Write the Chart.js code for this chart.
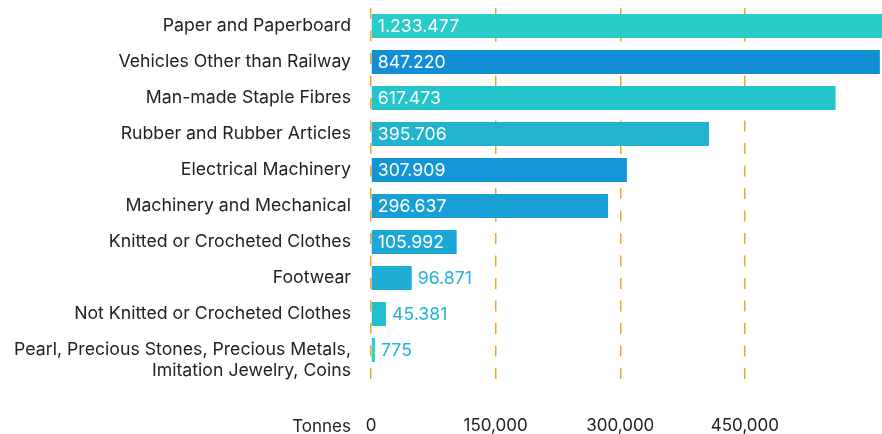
<!DOCTYPE html>
<html lang="en">
<head>
  <meta charset="UTF-8">
  <title>Exports by product (Tonnes)</title>
  <script src="https://cdn.jsdelivr.net/npm/chart.js"></script>
  <style>
    html, body { margin: 0; padding: 0; background: #fff; }
    #wrap { width: 882px; height: 434px; position: relative; }
  </style>
</head>
<body>
  <div id="wrap">
    <canvas id="chart"></canvas>
  </div>

  <script>
    // categories, top to bottom (blank first line keeps "Pearl..." level with its bar)
    const categories = [
      'Paper and Paperboard',
      'Vehicles Other than Railway',
      'Man-made Staple Fibres',
      'Rubber and Rubber Articles',
      'Electrical Machinery',
      'Machinery and Mechanical',
      'Knitted or Crocheted Clothes',
      'Footwear',
      'Not Knitted or Crocheted Clothes',
      ['', 'Pearl, Precious Stones, Precious Metals,', 'Imitation Jewelry, Coins']
    ];
    // bar lengths as drawn against the axis (first bar runs off the right edge)
    const barValues = [615000, 612400, 559100, 406700, 308000, 285200, 103100, 49000, 18000, 4800];
    // numbers printed on the bars
    const labelValues = [1233477, 847220, 617473, 395706, 307909, 296637, 105992, 96871, 45381, 775];
    const barColors = ['#28ccc9', '#128ed5', '#24c4cc', '#22b4ce', '#1496d6', '#189fd6', '#1ca8d4', '#20aed4', '#22c0cd', '#2ad4c8'];
    const xTicks = [0, 150000, 300000, 450000];
    const axisMax = 615000;
    const unitLabel = 'Tonnes';

    const FONT = 'Inter, "Noto Sans", sans-serif';
    const gridColor = '#f5a524';

    function dots(n) {
      return String(n).replace(/\B(?=(\d{3})+(?!\d))/g, '.');
    }

    // numbers on the bars: white inside when they fit, coloured after the bar otherwise
    const barLabelPlugin = {
      id: 'barLabelPlugin',
      afterDatasetsDraw: (chart) => {
        const ctx = chart.ctx;
        const meta = chart.getDatasetMeta(0);
        ctx.save();
        ctx.font = '17.7px ' + FONT;
        ctx.textBaseline = 'middle';
        ctx.textAlign = 'left';
        meta.data.forEach((bar, i) => {
          const text = dots(labelValues[i]);
          const w = ctx.measureText(text).width;
          const left = Math.min(bar.base, bar.x);
          const right = Math.min(Math.max(bar.base, bar.x), chart.chartArea.right);
          if (right - left > w + 12) {
            ctx.fillStyle = '#ffffff';
            ctx.fillText(text, left + 6, bar.y + 1);
          } else {
            ctx.fillStyle = '#25b3d3';
            ctx.fillText(text, right + 6, bar.y + 1);
          }
        });
        ctx.restore();
      }
    };

    // "Tonnes" in front of the x tick labels
    const unitPlugin = {
      id: 'unitPlugin',
      afterDraw: (chart) => {
        const ctx = chart.ctx;
        ctx.save();
        ctx.font = '17px ' + FONT;
        ctx.fillStyle = '#222222';
        ctx.textAlign = 'right';
        ctx.textBaseline = 'middle';
        ctx.fillText(unitLabel, chart.chartArea.left - 20, chart.scales.x.bottom - 7);
        ctx.restore();
      }
    };

    const ctx = document.getElementById('chart').getContext('2d');
    const chart = new Chart(ctx, {
      type: 'bar',
      data: {
        labels: categories,
        datasets: [{
          data: barValues,
          backgroundColor: barColors,
          borderWidth: 0,
          barPercentage: 1,
          categoryPercentage: 24 / 36
        }]
      },
      options: {
        indexAxis: 'y',
        responsive: true,
        maintainAspectRatio: false,
        animation: false,
        layout: { autoPadding: false, padding: { top: 8, right: 0, bottom: 0, left: 0 } },
        plugins: {
          legend: { display: false },
          tooltip: { enabled: false }
        },
        scales: {
          x: {
            type: 'linear',
            min: 0,
            max: axisMax,
            afterBuildTicks: (scale) => {
              scale.ticks = xTicks.map(v => ({ value: v }));
            },
            afterFit: (scale) => {
              scale.height = 66;
              scale.paddingLeft = 0;
              scale.paddingRight = 0;
            },
            border: { display: false, dash: [11, 11.5] },
            grid: {
              color: gridColor,
              lineWidth: 1.5,
              drawTicks: true,
              tickLength: 22,
              tickColor: gridColor,
              tickWidth: 1.5,
              tickBorderDash: [11, 11.5]
            },
            ticks: {
              color: '#222222',
              font: { family: FONT, size: 17 },
              padding: 26,
              maxRotation: 0
            }
          },
          y: {
            type: 'category',
            afterFit: (scale) => {
              scale.width = 371;
              scale.paddingTop = 0;
              scale.paddingBottom = 0;
            },
            border: { display: false },
            grid: { display: false, drawTicks: false },
            ticks: {
              color: '#222222',
              font: { family: FONT, size: 17.7, lineHeight: 1.16 },
              padding: 20,
              autoSkip: false
            }
          }
        }
      },
      plugins: [barLabelPlugin, unitPlugin]
    });
  </script>
</body>
</html>
